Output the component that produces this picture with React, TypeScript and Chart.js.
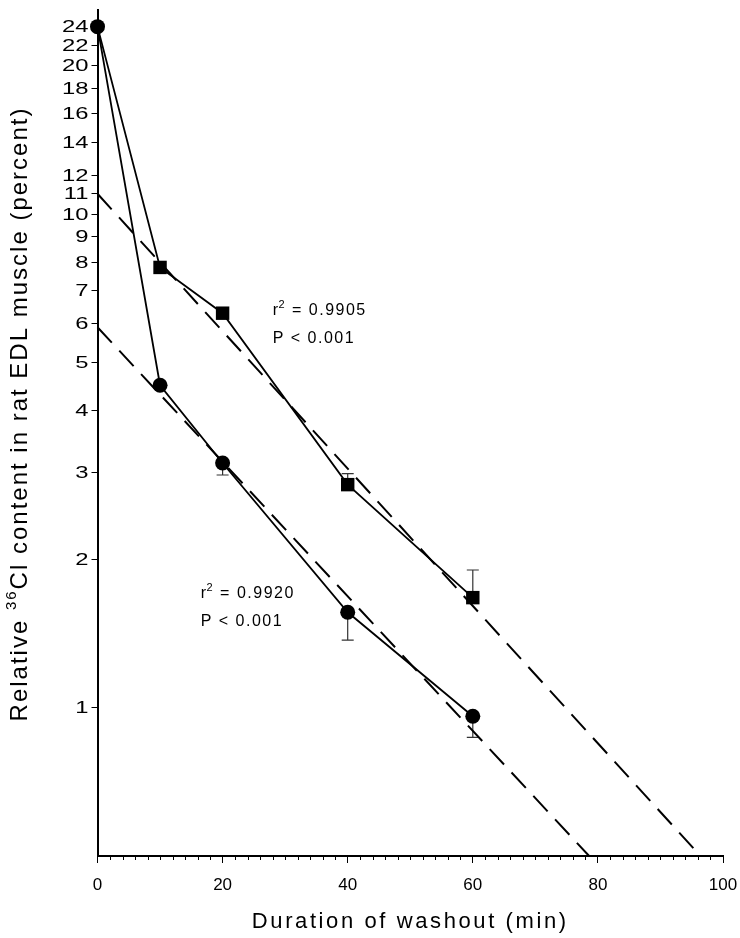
import React, { useEffect, useRef } from "react";
import { Chart, registerables } from "chart.js";

Chart.register(...registerables);

// ---- data ----
const timesMin = [0, 10, 20, 40, 60];
const squareValues = [24, 7.8, 6.3, 2.83, 1.67];
const squareErrUp = [0, 0, 0, 0.15, 0.23];
const circleValues = [24, 4.5, 3.13, 1.56, 0.96];
const circleErrDown = [0, 0, 0.17, 0.19, 0.09];
const fitUpperX = [0, 96.4];
const fitUpperY = [11.0, 0.5];
const fitLowerX = [0, 78.6];
const fitLowerY = [5.9, 0.5];
const yTickValues = [1, 2, 3, 4, 5, 6, 7, 8, 9, 10, 11, 12, 14, 16, 18, 20, 22, 24];
const xTickValues = [0, 20, 40, 60, 80, 100];
const r2Upper = "0.9905";
const r2Lower = "0.9920";
const pText = "P < 0.001";
const xTitle = "Duration of washout (min)";
const yTitleParts = ["Relative ", "36", "Cl content in rat EDL muscle (percent)"];

const FONT = "Arial, 'Liberation Sans', sans-serif";

const errorBarPlugin = {
  id: "errorBars",
  beforeDatasetsDraw(chart: any) {
    const { ctx } = chart;
    const xs = chart.scales.x;
    const ys = chart.scales.y;
    ctx.save();
    ctx.strokeStyle = "#333";
    ctx.lineWidth = 1.2;
    const bar = (t: number, v: number, e: number) => {
      const px = xs.getPixelForValue(t);
      const y0 = ys.getPixelForValue(v);
      const y1 = ys.getPixelForValue(e);
      ctx.beginPath();
      ctx.moveTo(px, y0);
      ctx.lineTo(px, y1);
      ctx.moveTo(px - 6, y1);
      ctx.lineTo(px + 6, y1);
      ctx.stroke();
    };
    timesMin.forEach((t, i) => {
      if (squareErrUp[i] > 0) bar(t, squareValues[i], squareValues[i] + squareErrUp[i]);
      if (circleErrDown[i] > 0) bar(t, circleValues[i], circleValues[i] - circleErrDown[i]);
    });
    ctx.restore();
  },
};

const decorPlugin = {
  id: "decor",
  afterDraw(chart: any) {
    const { ctx, chartArea } = chart;
    const xs = chart.scales.x;
    const ys = chart.scales.y;
    ctx.save();
    // minor x ticks every 2 units
    ctx.strokeStyle = "#000";
    ctx.lineWidth = 1;
    ctx.beginPath();
    for (let v = 2; v < 100; v += 2) {
      if (v % 20 === 0) continue;
      const px = Math.round(xs.getPixelForValue(v)) + 0.5;
      ctx.moveTo(px, chartArea.bottom);
      ctx.lineTo(px, chartArea.bottom + 4);
    }
    ctx.stroke();

    // y tick labels (wide glyphs as in the reference)
    ctx.fillStyle = "#000";
    ctx.font = `17px ${FONT}`;
    ctx.textAlign = "right";
    ctx.textBaseline = "middle";
    yTickValues.forEach((v) => {
      const py = ys.getPixelForValue(v);
      ctx.save();
      ctx.translate(chartArea.left - 9, py + 1);
      ctx.scale(1.4, 1);
      ctx.fillText(String(v), 0, 0);
      ctx.restore();
    });

    // stats annotations
    const drawStat = (xv: number, yv: number, r2: string) => {
      const x = xs.getPixelForValue(xv);
      const y = ys.getPixelForValue(yv);
      ctx.fillStyle = "#000";
      ctx.textAlign = "left";
      ctx.textBaseline = "alphabetic";
      (ctx as any).letterSpacing = "1.5px";
      ctx.font = `16px ${FONT}`;
      ctx.fillText("r", x, y);
      const w1 = ctx.measureText("r").width;
      ctx.font = `11px ${FONT}`;
      ctx.fillText("2", x + w1 - 1, y - 7);
      const w2 = ctx.measureText("2").width;
      ctx.font = `16px ${FONT}`;
      ctx.fillText(" = " + r2, x + w1 + w2 - 1, y);
      ctx.fillText(pText, x, y + 28);
    };
    drawStat(28, 6.26, r2Upper);
    drawStat(16.5, 1.67, r2Lower);

    // x title
    (ctx as any).letterSpacing = "2.6px";
    ctx.font = `22px ${FONT}`;
    ctx.textAlign = "center";
    ctx.textBaseline = "alphabetic";
    ctx.fillText(xTitle, (chartArea.left + chartArea.right) / 2, 928);

    // y title with superscript
    ctx.translate(27, 414);
    ctx.rotate(-Math.PI / 2);
    ctx.textAlign = "left";
    (ctx as any).letterSpacing = "2px";
    ctx.font = `24px ${FONT}`;
    const a = ctx.measureText(yTitleParts[0]).width;
    const c = ctx.measureText(yTitleParts[2]).width;
    ctx.font = `15px ${FONT}`;
    const b = ctx.measureText(yTitleParts[1]).width;
    const x0 = -(a + b + c) / 2;
    ctx.font = `24px ${FONT}`;
    ctx.fillText(yTitleParts[0], x0, 0);
    ctx.font = `15px ${FONT}`;
    ctx.fillText(yTitleParts[1], x0 + a, -11);
    ctx.font = `24px ${FONT}`;
    ctx.fillText(yTitleParts[2], x0 + a + b, 0);
    ctx.restore();
  },
};

export default function App() {
  const ref = useRef<HTMLCanvasElement>(null);
  useEffect(() => {
    document.body.style.margin = "0";
    const canvas = ref.current!;
    const toXY = (xs: number[], ys: number[]) => xs.map((x, i) => ({ x, y: ys[i] }));
    const chart = new Chart(canvas, {
      type: "scatter",
      data: {
        datasets: [
          {
            data: toXY(fitUpperX, fitUpperY),
            showLine: true,
            borderColor: "#000",
            borderWidth: 2,
            borderDash: [21, 11],
            pointRadius: 0,
            clip: false,
          } as any,
          {
            data: toXY(fitLowerX, fitLowerY),
            showLine: true,
            borderColor: "#000",
            borderWidth: 2,
            borderDash: [21, 11],
            pointRadius: 0,
            clip: false,
          } as any,
          {
            data: toXY(timesMin, squareValues),
            showLine: true,
            borderColor: "#000",
            borderWidth: 1.8,
            pointStyle: "rect",
            pointRadius: (c: any) => (c.dataIndex === 0 ? 0 : 9.5),
            pointBackgroundColor: "#000",
            pointBorderColor: "#000",
            pointBorderWidth: 0,
            clip: false,
          } as any,
          {
            data: toXY(timesMin, circleValues),
            showLine: true,
            borderColor: "#000",
            borderWidth: 1.8,
            pointStyle: "circle",
            pointRadius: 7.5,
            pointBackgroundColor: "#000",
            pointBorderColor: "#000",
            pointBorderWidth: 0,
            clip: false,
          } as any,
        ],
      },
      options: {
        responsive: false,
        animation: false,
        events: [],
        layout: { padding: { top: 1, right: 17, left: 0, bottom: 0 } },
        plugins: { legend: { display: false }, tooltip: { enabled: false } },
        scales: {
          x: {
            type: "linear",
            min: 0,
            max: 100,
            afterBuildTicks: (s: any) => {
              s.ticks = xTickValues.map((v) => ({ value: v }));
            },
            afterFit: (s: any) => {
              s.height = 82;
              s.paddingLeft = 0;
              s.paddingRight = 0;
            },
            ticks: {
              color: "#000",
              font: { family: FONT, size: 17 },
              padding: 12,
              maxRotation: 0,
              autoSkip: false,
              callback: (v: any) => String(v),
            },
            grid: { display: true, drawOnChartArea: false, drawTicks: true, tickLength: 7, color: "#000", lineWidth: 1 },
            border: { display: true, color: "#000", width: 2 },
          },
          y: {
            type: "logarithmic",
            min: 0.5,
            max: 26,
            afterBuildTicks: (s: any) => {
              s.ticks = yTickValues.map((v) => ({ value: v }));
            },
            afterFit: (s: any) => {
              s.width = 97.5;
              s.paddingTop = 0;
              s.paddingBottom = 0;
            },
            ticks: {
              color: "rgba(0,0,0,0)",
              font: { family: FONT, size: 16 },
              padding: 4,
              autoSkip: false,
              callback: (v: any) => String(v),
            },
            grid: { display: true, drawOnChartArea: false, drawTicks: true, tickLength: 6, color: "#000", lineWidth: 1 },
            border: { display: true, color: "#000", width: 2 },
          },
        },
      },
      plugins: [errorBarPlugin, decorPlugin],
    } as any);
    return () => chart.destroy();
  }, []);
  return (
    <div style={{ width: 740, height: 938 }}>
      <canvas ref={ref} width={740} height={938} style={{ display: "block" }} />
    </div>
  );
}
